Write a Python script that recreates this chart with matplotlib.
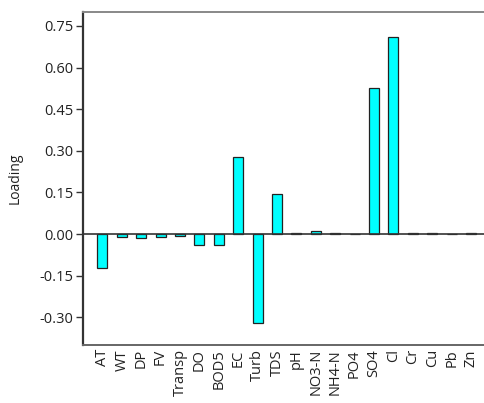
import numpy as np
import matplotlib.pyplot as plt

# loadings
params = ["AT", "WT", "DP", "FV", "Transp", "DO", "BOD5", "EC", "Turb", "TDS",
          "pH", "NO3-N", "NH4-N", "PO4", "SO4", "Cl", "Cr", "Cu", "Pb", "Zn"]
loading = [-0.122, -0.012, -0.016, -0.011, -0.006, -0.040, -0.038, 0.277, -0.320, 0.144,
           0.005, 0.012, 0.005, 0.001, 0.525, 0.709, 0.002, 0.002, 0.001, 0.002]
yticks = [-0.30, -0.15, 0.00, 0.15, 0.30, 0.45, 0.60, 0.75]

plt.rcParams['font.family'] = ['Open Sans', 'DejaVu Sans']

fig = plt.figure(figsize=(4.85, 4.03), dpi=100)
ax = fig.add_axes([83/485, 1 - 345/403, (485 - 83)/485, (345 - 12)/403])

x = np.arange(len(params))
ax.bar(x, loading, width=0.52, color='#00ffff', edgecolor='#222222', linewidth=0.9, zorder=2)
ax.axhline(0, color='#333333', linewidth=1.2, zorder=3)

ax.set_xlim(-1, 19.72)
ax.set_ylim(-0.40, 0.80)
ax.set_yticks(yticks)
ax.set_yticklabels(["%.2f" % v for v in yticks], fontsize=10.5, color='#222222')
ax.set_xticks(x)
ax.set_xticklabels(params, rotation=90, fontsize=10.5, color='#222222', va='top')
ax.tick_params(axis='x', length=0, pad=3)
ax.tick_params(axis='y', length=5, width=1, color='#333333', pad=2)
ax.set_ylabel("Loading", fontsize=10, color='#222222', labelpad=12)

ax.spines['left'].set_color('#333333')
ax.spines['left'].set_linewidth(1.6)
ax.spines['bottom'].set_color('#666666')
ax.spines['bottom'].set_linewidth(1.4)
ax.spines['top'].set_color('#888888')
ax.spines['top'].set_linewidth(1.4)
ax.spines['right'].set_visible(False)

plt.savefig("out.png", dpi=100)
